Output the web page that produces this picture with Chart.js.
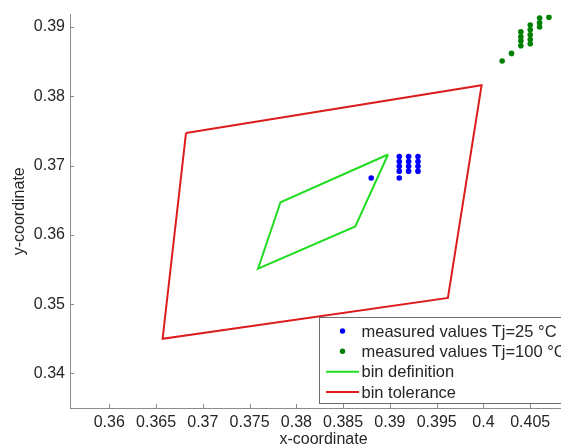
<!DOCTYPE html>
<html>
<head>
<meta charset="utf-8">
<script src="https://cdn.jsdelivr.net/npm/chart.js@4.4.1/dist/chart.umd.min.js"></script>
<style>
  html, body { margin: 0; padding: 0; background: #fff; overflow: hidden; }
  #wrap { width: 600px; height: 446px; }
</style>
</head>
<body>
<div id="wrap"><canvas id="c" width="600" height="446"></canvas></div>
<script>
// ---- data ----
const xTicks = [0.36, 0.365, 0.37, 0.375, 0.38, 0.385, 0.39, 0.395, 0.4, 0.405];
const yTicks = [0.34, 0.35, 0.36, 0.37, 0.38, 0.39];

const tolX = [0.3682, 0.3998, 0.3962, 0.3657, 0.3682];
const tolY = [0.3747, 0.3816, 0.3509, 0.3450, 0.3747];

const binX = [0.3898, 0.3783, 0.3759, 0.3863, 0.3898];
const binY = [0.3716, 0.3647, 0.3551, 0.3612, 0.3716];

const t25X = [0.391, 0.391, 0.391, 0.391, 0.391,
              0.392, 0.392, 0.392, 0.392,
              0.393, 0.393, 0.393, 0.393,
              0.388];
const t25Y = [0.3713, 0.3706, 0.3699, 0.3692, 0.3682,
              0.3713, 0.3706, 0.3699, 0.3692,
              0.3713, 0.3706, 0.3699, 0.3692,
              0.3682];

const t100X = [0.402, 0.403,
               0.404, 0.404, 0.404, 0.404,
               0.405, 0.405, 0.405, 0.405, 0.405,
               0.406, 0.406, 0.406,
               0.407];
const t100Y = [0.3851, 0.3862,
               0.3893, 0.3886, 0.3880, 0.3873,
               0.3903, 0.3896, 0.3889, 0.3882, 0.3876,
               0.3913, 0.3906, 0.3900,
               0.3914];

const seriesLabels = ['measured values Tj=25 °C', 'measured values Tj=100 °C', 'bin definition', 'bin tolerance'];

const toPts = (xs, ys) => xs.map((x, i) => ({ x: x, y: ys[i] }));

const FONT = '"Liberation Sans", Arial, Helvetica, sans-serif';
const AXIS_COLOR = '#8c8c8c';
const TEXT_COLOR = '#262626';

const innerTicks = {
  id: 'innerTicks',
  afterDraw(chart) {
    const ctx = chart.ctx;
    const xs = chart.scales.x, ys = chart.scales.y;
    const a = chart.chartArea;
    ctx.save();
    ctx.strokeStyle = AXIS_COLOR;
    ctx.lineWidth = 1;
    ctx.beginPath();
    xs.ticks.forEach(t => {
      const px = Math.round(xs.getPixelForValue(t.value)) + 0.5;
      ctx.moveTo(px, a.bottom);
      ctx.lineTo(px, a.bottom - 4);
    });
    ys.ticks.forEach(t => {
      const py = Math.round(ys.getPixelForValue(t.value)) + 0.5;
      ctx.moveTo(a.left, py);
      ctx.lineTo(a.left + 4, py);
    });
    ctx.stroke();

    // legend box (Matlab style, inside the axes)
    const bx = 319.5, by = 317.5, bw = 300, bh = 86;
    ctx.fillStyle = '#ffffff';
    ctx.fillRect(bx, by, bw, bh);
    ctx.strokeStyle = '#6e6e6e';
    ctx.strokeRect(bx, by, bw, bh);
    const rows = [331, 351.3, 371.7, 392];
    ctx.font = '16.5px ' + FONT;
    ctx.textBaseline = 'middle';
    ctx.textAlign = 'left';
    chart.data.datasets.forEach((ds, i) => {
      const y = rows[i];
      if (ds.showLine) {
        ctx.strokeStyle = ds.borderColor;
        ctx.lineWidth = 2;
        ctx.beginPath();
        ctx.moveTo(326, y);
        ctx.lineTo(359, y);
        ctx.stroke();
      } else {
        ctx.fillStyle = ds.backgroundColor;
        ctx.beginPath();
        ctx.arc(342.5, y, 2.7, 0, Math.PI * 2);
        ctx.fill();
      }
      ctx.fillStyle = TEXT_COLOR;
      ctx.fillText(ds.label, 361.5, y + 1);
    });
    ctx.restore();
  }
};

new Chart(document.getElementById('c'), {
  type: 'scatter',
  data: {
    datasets: [
      {
        label: seriesLabels[0],
        data: toPts(t25X, t25Y),
        backgroundColor: '#0000ff',
        borderColor: '#0000ff',
        borderWidth: 0,
        pointRadius: 2.8,
        showLine: false
      },
      {
        label: seriesLabels[1],
        data: toPts(t100X, t100Y),
        backgroundColor: '#008000',
        borderColor: '#008000',
        borderWidth: 0,
        pointRadius: 2.8,
        showLine: false
      },
      {
        label: seriesLabels[2],
        data: toPts(binX, binY),
        borderColor: '#22dd22',
        backgroundColor: '#22dd22',
        borderWidth: 2,
        pointRadius: 0,
        showLine: true,
        tension: 0
      },
      {
        label: seriesLabels[3],
        data: toPts(tolX, tolY),
        borderColor: '#dd1c1c',
        backgroundColor: '#dd1c1c',
        borderWidth: 2,
        pointRadius: 0,
        showLine: true,
        tension: 0
      }
    ]
  },
  options: {
    responsive: false,
    animation: false,
    devicePixelRatio: 1,
    layout: { padding: { left: 0, top: 10, right: 23, bottom: 0 } },
    plugins: {
      legend: { display: false },
      tooltip: { enabled: false }
    },
    scales: {
      x: {
        type: 'linear',
        position: 'bottom',
        min: 0.3558,
        max: 0.41,
        grid: { display: false, drawTicks: false },
        border: { display: true, color: AXIS_COLOR, width: 1 },
        afterBuildTicks: s => { s.ticks = xTicks.map(v => ({ value: v })); },
        afterFit: s => { s.height = 38; },
        ticks: {
          padding: 5,
          maxRotation: 0,
          autoSkip: false,
          color: TEXT_COLOR,
          font: { family: FONT, size: 16 },
          callback: v => String(+Number(v).toFixed(3))
        },
        title: {
          display: true,
          text: 'x-coordinate',
          color: TEXT_COLOR,
          font: { family: FONT, size: 16, lineHeight: 0.75 },
          padding: { top: 0, bottom: 0 }
        }
      },
      y: {
        type: 'linear',
        position: 'left',
        min: 0.335,
        max: 0.3918,
        grid: { display: false, drawTicks: false },
        border: { display: true, color: AXIS_COLOR, width: 1 },
        afterBuildTicks: s => { s.ticks = yTicks.map(v => ({ value: v })); },
        afterFit: s => { s.width = 70; },
        ticks: {
          padding: 5,
          autoSkip: false,
          color: TEXT_COLOR,
          font: { family: FONT, size: 16 },
          callback: v => String(+Number(v).toFixed(3))
        },
        title: {
          display: true,
          text: 'y-coordinate',
          color: TEXT_COLOR,
          font: { family: FONT, size: 16 },
          padding: { top: 10, bottom: 0 }
        }
      }
    }
  },
  plugins: [innerTicks]
});
</script>
</body>
</html>
